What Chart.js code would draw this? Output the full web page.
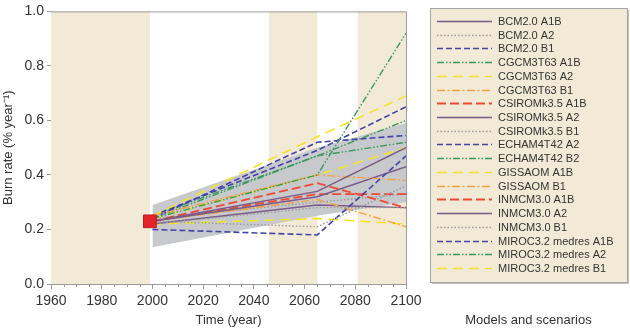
<!DOCTYPE html>
<html>
<head>
<meta charset="utf-8">
<script src="https://cdn.jsdelivr.net/npm/chart.js@4.4.0/dist/chart.umd.min.js"></script>
<style>
    html, body { margin: 0; padding: 0; background: #fff; }
    #wrap { width: 630px; height: 328px; position: relative; }
</style>
</head>
<body>
<div id="wrap"><canvas id="burnChart"></canvas></div>
<script>
    // ---- data ----
    const years = [2000, 2065, 2100];

    const seriesNames = [
        'BCM2.0 A1B', 'BCM2.0 A2', 'BCM2.0 B1',
        'CGCM3T63 A1B', 'CGCM3T63 A2', 'CGCM3T63 B1',
        'CSIROMk3.5 A1B', 'CSIROMk3.5 A2', 'CSIROMk3.5 B1',
        'ECHAM4T42 A2', 'ECHAM4T42 B2',
        'GISSAOM A1B', 'GISSAOM B1',
        'INMCM3.0 A1B', 'INMCM3.0 A2', 'INMCM3.0 B1',
        'MIROC3.2 medres A1B', 'MIROC3.2 medres A2', 'MIROC3.2 medres B1'
    ];

    // burn rate at 2000, 2065, 2100 for each series (same order as names)
    const seriesValues = [
        [0.23, 0.34, 0.50],
        [0.23, 0.21, 0.36],
        [0.20, 0.18, 0.47],
        [0.24, 0.40, 0.92],
        [0.25, 0.54, 0.69],
        [0.25, 0.40, 0.38],
        [0.23, 0.37, 0.28],
        [0.23, 0.32, 0.43],
        [0.22, 0.28, 0.28],
        [0.24, 0.52, 0.545],
        [0.24, 0.47, 0.52],
        [0.24, 0.40, 0.50],
        [0.23, 0.31, 0.21],
        [0.23, 0.33, 0.33],
        [0.22, 0.29, 0.28],
        [0.24, 0.30, 0.33],
        [0.25, 0.49, 0.65],
        [0.25, 0.47, 0.60],
        [0.22, 0.24, 0.22]
    ];

    const envelopeUpper = [0.29, 0.50, 0.59];
    const envelopeLower = [0.135, 0.25, 0.30];

    const observedYear = [1999];
    const observedRate = [0.23];

    const bandStarts = [1960, 2046, 2081];
    const bandEnds = [1999, 2065, 2100];

    // ---- styles ----
    const BAND_COLOR = '#f2ead6';
    const AXIS_COLOR = '#9a9a9a';
    const TEXT_COLOR = '#333333';

    const lineStyles = {
        purple: { color: '#7a5a88', dash: [], width: 1.4 },
        gray:   { color: '#9c9c9c', dash: [1.5, 2], width: 1.4 },
        blue:   { color: '#4343a8', dash: [6, 3], width: 1.6 },
        green:  { color: '#3a9a5c', dash: [7, 2, 1.5, 2, 1.5, 2], width: 1.4 },
        yellow: { color: '#f3e32c', dash: [10, 6], width: 1.6 },
        orange: { color: '#f5a142', dash: [8, 2.5, 2, 2.5], width: 1.4 },
        red:    { color: '#ee4a32', dash: [9, 4], width: 1.8 }
    };

    const seriesStyle = [
        'purple', 'gray', 'blue',
        'green', 'yellow', 'orange',
        'red', 'purple', 'gray',
        'blue', 'green',
        'yellow', 'orange',
        'red', 'purple', 'gray',
        'blue', 'green', 'yellow'
    ];

    const toPoints = vals => vals.map((v, i) => ({ x: years[i], y: v }));

    const lineSets = seriesNames.map((name, i) => {
        const st = lineStyles[seriesStyle[i]];
        return {
            label: name,
            data: toPoints(seriesValues[i]),
            borderColor: st.color,
            borderDash: st.dash,
            borderWidth: st.width,
            pointRadius: 0,
            tension: 0,
            fill: false
        };
    });

    const datasets = [
        {
            label: 'observed',
            data: observedYear.map((x, i) => ({ x: x, y: observedRate[i] })),
            showLine: false,
            pointStyle: 'rect',
            pointRadius: 9,
            backgroundColor: '#e5232a',
            borderColor: '#b52025',
            borderWidth: 1
        },
        ...lineSets,
        {
            label: 'upper',
            data: toPoints(envelopeUpper),
            borderWidth: 0,
            pointRadius: 0,
            tension: 0,
            backgroundColor: '#c8c9cc',
            fill: '+1'
        },
        {
            label: 'lower',
            data: toPoints(envelopeLower),
            borderWidth: 0,
            pointRadius: 0,
            tension: 0,
            fill: false
        }
    ];

    // beige period bands behind everything
    const bandsPlugin = {
        id: 'bands',
        beforeDatasetsDraw(chart) {
            const { ctx, chartArea, scales } = chart;
            ctx.save();
            ctx.fillStyle = BAND_COLOR;
            bandStarts.forEach((s, i) => {
                const x1 = scales.x.getPixelForValue(s);
                const x2 = scales.x.getPixelForValue(bandEnds[i]);
                ctx.fillRect(x1, chartArea.top, x2 - x1, chartArea.bottom - chartArea.top);
            });
            ctx.restore();
        }
    };

    // frame, minor ticks, legend box and its caption
    const extrasPlugin = {
        id: 'extras',
        afterDraw(chart) {
            const { ctx, chartArea, scales } = chart;
            ctx.save();

            ctx.strokeStyle = AXIS_COLOR;
            ctx.lineWidth = 1;
            ctx.beginPath();
            ctx.moveTo(chartArea.left, chartArea.top + 0.5);
            ctx.lineTo(chartArea.right + 0.5, chartArea.top + 0.5);
            ctx.lineTo(chartArea.right + 0.5, chartArea.bottom);
            ctx.stroke();

            ctx.beginPath();
            for (let yr = 1965; yr < 2100; yr += 5) {
                if (yr % 20 === 0) continue;
                const px = Math.round(scales.x.getPixelForValue(yr)) + 0.5;
                ctx.moveTo(px, chartArea.bottom);
                ctx.lineTo(px, chartArea.bottom + 3);
            }
            ctx.stroke();

            // legend
            const bx = 430, by = 8, bw = 197, bh = 274;
            ctx.fillStyle = '#c4c0b4';
            ctx.fillRect(bx + 2, by + 2, bw, bh);
            ctx.fillStyle = BAND_COLOR;
            ctx.fillRect(bx, by, bw, bh);
            ctx.strokeStyle = '#a5a5a5';
            ctx.strokeRect(bx + 0.5, by + 0.5, bw, bh);

            ctx.font = '11px "Liberation Sans", Arial, sans-serif';
            ctx.textBaseline = 'middle';
            ctx.textAlign = 'left';
            seriesNames.forEach((name, i) => {
                const st = lineStyles[seriesStyle[i]];
                const y = Math.round(21 + i * 13.72) + 0.5;
                ctx.strokeStyle = st.color;
                ctx.lineWidth = st.width;
                ctx.setLineDash(st.dash);
                ctx.beginPath();
                ctx.moveTo(437, y);
                ctx.lineTo(492, y);
                ctx.stroke();
                ctx.setLineDash([]);
                ctx.fillStyle = TEXT_COLOR;
                ctx.fillText(name, 498, y + 0.5);
            });

            ctx.font = '13px "Liberation Sans", Arial, sans-serif';
            ctx.textAlign = 'center';
            ctx.fillText('Models and scenarios', bx + bw / 2, 320);
            ctx.restore();
        }
    };

    Chart.defaults.font.family = '"Liberation Sans", Arial, sans-serif';
    Chart.defaults.color = TEXT_COLOR;

    new Chart(document.getElementById('burnChart'), {
        type: 'line',
        data: { datasets: datasets },
        options: {
            responsive: true,
            maintainAspectRatio: false,
            animation: false,
            layout: { padding: { top: 7, right: 224, left: 0, bottom: 0 } },
            plugins: {
                legend: { display: false },
                tooltip: { enabled: false }
            },
            scales: {
                x: {
                    type: 'linear',
                    min: 1960,
                    max: 2100,
                    afterFit: function(scale) { scale.height = 44; },
                    ticks: {
                        stepSize: 20,
                        padding: 4,
                        maxRotation: 0,
                        font: { size: 14 },
                        callback: function(value) { return String(value); }
                    },
                    grid: {
                        drawOnChartArea: false,
                        tickLength: 5,
                        color: AXIS_COLOR
                    },
                    border: { color: AXIS_COLOR },
                    title: {
                        display: true,
                        text: 'Time (year)',
                        font: { size: 13 },
                        padding: { top: 0, bottom: 0 }
                    }
                },
                y: {
                    min: 0,
                    max: 1,
                    afterFit: function(scale) { scale.width = 51; },
                    ticks: {
                        stepSize: 0.2,
                        padding: 3,
                        font: { size: 14 },
                        callback: function(value) { return value.toFixed(1); }
                    },
                    grid: {
                        drawOnChartArea: false,
                        tickLength: 4,
                        color: AXIS_COLOR
                    },
                    border: { color: AXIS_COLOR },
                    title: {
                        display: true,
                        text: 'Burn rate (% year\u207B\u00B9)',
                        font: { size: 13 },
                        padding: { top: 1, bottom: 0 }
                    }
                }
            }
        },
        plugins: [bandsPlugin, extrasPlugin]
    });
</script>
</body>
</html>
